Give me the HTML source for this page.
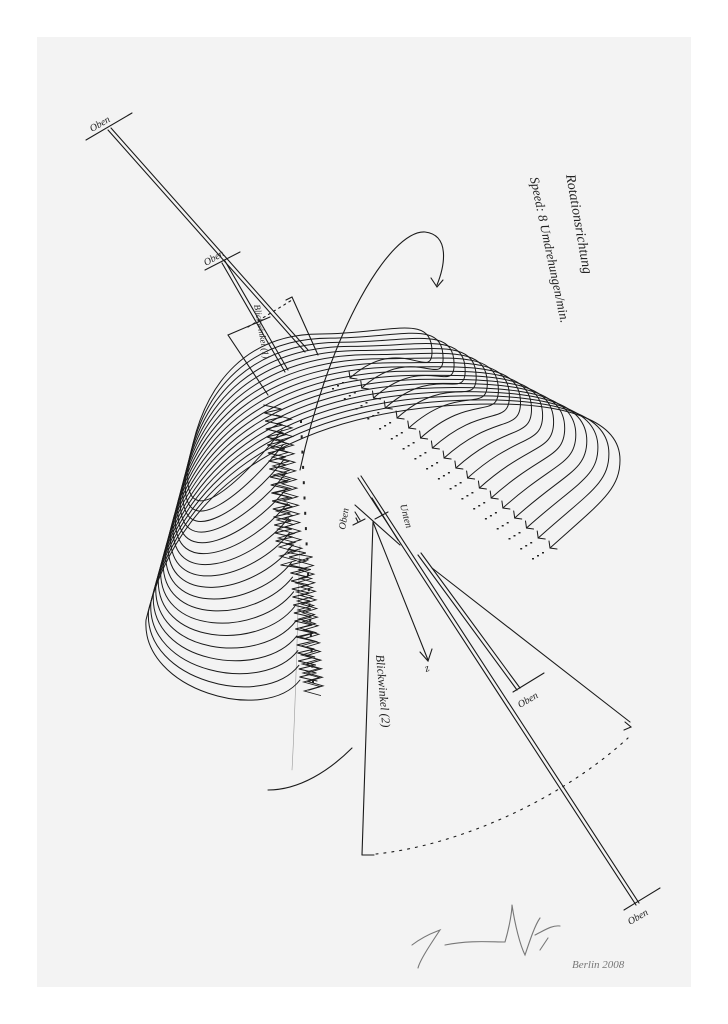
<!DOCTYPE html>
<html><head><meta charset="utf-8"><style>
html,body{margin:0;padding:0;background:#fff;}
svg{display:block}
text{font-family:"Liberation Serif",serif;font-style:italic;fill:#222}
</style></head><body>
<svg id="s" width="728" height="1024" viewBox="0 0 728 1024" xmlns="http://www.w3.org/2000/svg">
<rect x="0" y="0" width="728" height="1024" fill="#ffffff"/>
<rect x="37" y="37" width="654" height="950" fill="#f3f3f3"/>
<g stroke="#1a1a1a" fill="none" stroke-width="1.1" stroke-linecap="round">
<line x1="108" y1="130" x2="305" y2="352"/><line x1="111" y1="128" x2="308" y2="350"/>
<line x1="358" y1="478" x2="636" y2="905"/><line x1="361" y1="476" x2="639" y2="903"/>
<line x1="86" y1="140" x2="132" y2="113"/>
<line x1="624" y1="910" x2="660" y2="888"/>
<line x1="222" y1="263" x2="285" y2="372"/><line x1="225" y1="261" x2="288" y2="370"/>
<line x1="205" y1="270" x2="240" y2="252"/>
<line x1="418" y1="555" x2="517" y2="690"/><line x1="421" y1="553" x2="520" y2="688"/>
<line x1="513" y1="692" x2="544" y2="673"/>
<polyline points="270,317 228,335 268,395"/>
<polyline points="286,300 292,297 318,355"/>
<line x1="248" y1="327" x2="292" y2="300" stroke-dasharray="2,4"/>
<path d="M300,470 C330,330 390,230 425,232 C450,235 445,265 437,285"/>
<path d="M431,278 L437,287 L443,280"/>
<path d="M352,748 C330,770 300,790 268,790"/>
<path d="M300,545 C298,600 296,700 292,770" stroke="#999" stroke-width="0.6"/>
<line x1="373" y1="522" x2="362" y2="855"/>
<line x1="362" y1="855" x2="374" y2="855"/>
<path d="M376,854 C460,845 560,800 628,738" stroke-dasharray="2,6"/>
<line x1="432" y1="568" x2="630" y2="722"/>
<path d="M625,722 L631,727 L624,730"/>
<line x1="373" y1="522" x2="428" y2="660"/>
<path d="M420,652 L428,661 L432,649"/>
<line x1="355" y1="505" x2="400" y2="545"/>
<line x1="372" y1="498" x2="398" y2="540"/>
<line x1="353" y1="525" x2="365" y2="519"/><line x1="358" y1="522" x2="356" y2="518"/>
<line x1="375" y1="519" x2="388" y2="512"/>
<path d="M355,512 L360,520" />
<g id="loops" stroke-width="1"></g>
<g id="zig" stroke-width="0.9"></g>
<path d="M412,945 C425,935 435,932 440,930 C430,945 420,960 418,968" stroke="#777"/>
<path d="M445,945 C470,940 490,942 505,942 C510,925 512,910 512,905 M512,905 C515,925 520,945 525,955 C530,940 535,925 540,918 M535,935 C545,930 552,925 560,926 M540,950 L548,938" stroke="#777"/>
</g>
<g id="dots" fill="#222"></g>
<text x="0" y="0" font-size="10" transform="translate(92,132) rotate(-30)">Oben</text>
<text x="0" y="0" font-size="10" transform="translate(206,266) rotate(-30)">Oben</text>
<text x="0" y="0" font-size="10" transform="translate(520,708) rotate(-30)">Oben</text>
<text x="0" y="0" font-size="10" transform="translate(630,925) rotate(-30)">Oben</text>
<text x="0" y="0" font-size="9" transform="translate(254,305) rotate(80)">Blickwinkel (1)</text>
<text x="0" y="0" font-size="12" transform="translate(376,655) rotate(85)">Blickwinkel (2)</text>
<text x="0" y="0" font-size="10" transform="translate(400,505) rotate(75)">Unten</text>
<text x="0" y="0" font-size="10" transform="translate(345,530) rotate(-80)">Oben</text>
<text x="0" y="0" font-size="11" transform="translate(426,672) rotate(-20)">z</text>
<text x="0" y="0" font-size="14" transform="translate(566,175) rotate(80)">Rotationsrichtung</text>
<text x="0" y="0" font-size="13" transform="translate(530,178) rotate(78)">Speed: 8 Umdrehungen/min.</text>
<text x="572" y="968" font-size="11" style="fill:#777">Berlin 2008</text>
</svg>
<script>
var ns="http://www.w3.org/2000/svg";
var g=document.getElementById('loops'),z=document.getElementById('zig'),d=document.getElementById('dots');
var N=18;
function f(n){return n.toFixed(1);}
for(var i=0;i<N;i++){
 var t=i/(N-1);
 var S=[282+18*t,430+250*t];
 var L=[188-42*t,470+150*t];
 var T=[320+175*t,334+70*t];
 var R=[432+188*t,352+108*t];
 var E=[350+200*t,378+170*t];
 var dx=T[0]-L[0],dy=L[1]-T[1];
 var p="M"+f(S[0])+","+f(S[1])+
 " C"+f(S[0]-35)+","+f(S[1]+45)+" "+f(L[0]-5)+","+f(L[1]+70)+" "+f(L[0])+","+f(L[1])+
 " C"+f(L[0]+0.1*dx)+","+f(L[1]-0.7*dy)+" "+f(T[0]-0.5*dx)+","+f(T[1])+" "+f(T[0])+","+f(T[1])+
 " C"+f(T[0]+70)+","+f(T[1])+" "+f(R[0])+","+f(R[1]-40)+" "+f(R[0])+","+f(R[1])+
 " C"+f(R[0])+","+f(R[1]+30)+" "+f(E[0]+50)+","+f(E[1]-45)+" "+f(E[0])+","+f(E[1]);
 var e=document.createElementNS(ns,'path');e.setAttribute('d',p);g.appendChild(e);
 var a=document.createElementNS(ns,'path');
 a.setAttribute('d',"M"+f(E[0]-1)+","+f(E[1]-7)+" L"+f(E[0])+","+f(E[1])+" L"+f(E[0]+7)+","+f(E[1]+1));g.appendChild(a);
 for(var k=0;k<3;k++){var c=document.createElementNS(ns,'rect');c.setAttribute('x',f(E[0]-8-k*5));c.setAttribute('y',f(E[1]+4+k*3));c.setAttribute('width','2');c.setAttribute('height','1.5');d.appendChild(c);}
 var c2=document.createElementNS(ns,'rect');c2.setAttribute('x',f(300+12*t));c2.setAttribute('y',f(420+260*t));c2.setAttribute('width','2');c2.setAttribute('height','3');d.appendChild(c2);
}
function zig(x0,y0,n,step,amp,shift){var zp="";for(var j=0;j<n;j++){var y=y0+j*step,x=x0+j*0.35+(j%2?amp:-amp/3)+(j>n/2?shift:0);zp+=(j?" L":"M")+f(x)+","+f(y);}
var ze=document.createElementNS(ns,'path');ze.setAttribute('d',zp);z.appendChild(ze);}
zig(268,405,70,4,13,12);zig(280,415,65,4.3,11,10);zig(274,430,60,4.5,12,14);
</script>
</body></html>
